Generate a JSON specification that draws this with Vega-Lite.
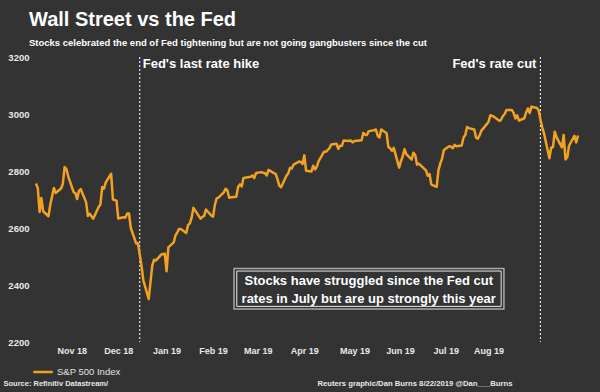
{
  "$schema": "https://vega.github.io/schema/vega-lite/v6.json",
  "width": 542,
  "height": 285,
  "autosize": {"type": "none"},
  "padding": {"left": 36, "top": 57, "right": 22, "bottom": 50},
  "background": "#333333",
  "config": {
    "view": {"stroke": null},
    "font": "Liberation Sans"
  },
  "title": {
    "text": "Wall Street vs the Fed",
    "subtitle": "Stocks celebrated the end of Fed tightening but are not going gangbusters since the cut",
    "anchor": "start",
    "frame": "group",
    "dx": -7,
    "offset": 5,
    "font": "Liberation Sans",
    "fontSize": 20,
    "fontWeight": "bold",
    "color": "#ffffff",
    "subtitleFont": "Liberation Sans",
    "subtitleFontSize": 9.5,
    "subtitleFontWeight": "bold",
    "subtitleColor": "#ffffff",
    "subtitlePadding": 8
  },
  "datasets": {
    "sp500": [
      {"date": "2018-10-22", "close": 2755.88},
      {"date": "2018-10-23", "close": 2740.69},
      {"date": "2018-10-24", "close": 2656.10},
      {"date": "2018-10-25", "close": 2705.57},
      {"date": "2018-10-26", "close": 2658.69},
      {"date": "2018-10-29", "close": 2641.25},
      {"date": "2018-10-30", "close": 2682.63},
      {"date": "2018-10-31", "close": 2711.74},
      {"date": "2018-11-01", "close": 2740.37},
      {"date": "2018-11-02", "close": 2723.06},
      {"date": "2018-11-05", "close": 2738.31},
      {"date": "2018-11-06", "close": 2755.45},
      {"date": "2018-11-07", "close": 2813.89},
      {"date": "2018-11-08", "close": 2806.83},
      {"date": "2018-11-09", "close": 2781.01},
      {"date": "2018-11-12", "close": 2726.22},
      {"date": "2018-11-13", "close": 2722.18},
      {"date": "2018-11-14", "close": 2701.58},
      {"date": "2018-11-15", "close": 2730.20},
      {"date": "2018-11-16", "close": 2736.27},
      {"date": "2018-11-19", "close": 2690.73},
      {"date": "2018-11-20", "close": 2641.89},
      {"date": "2018-11-21", "close": 2649.93},
      {"date": "2018-11-23", "close": 2632.56},
      {"date": "2018-11-26", "close": 2673.45},
      {"date": "2018-11-27", "close": 2682.17},
      {"date": "2018-11-28", "close": 2743.79},
      {"date": "2018-11-29", "close": 2737.80},
      {"date": "2018-11-30", "close": 2760.17},
      {"date": "2018-12-03", "close": 2790.37},
      {"date": "2018-12-04", "close": 2700.06},
      {"date": "2018-12-06", "close": 2695.95},
      {"date": "2018-12-07", "close": 2633.08},
      {"date": "2018-12-10", "close": 2637.72},
      {"date": "2018-12-11", "close": 2636.78},
      {"date": "2018-12-12", "close": 2651.07},
      {"date": "2018-12-13", "close": 2650.54},
      {"date": "2018-12-14", "close": 2599.95},
      {"date": "2018-12-17", "close": 2545.94},
      {"date": "2018-12-18", "close": 2546.16},
      {"date": "2018-12-19", "close": 2506.96},
      {"date": "2018-12-20", "close": 2467.42},
      {"date": "2018-12-21", "close": 2416.62},
      {"date": "2018-12-24", "close": 2351.10},
      {"date": "2018-12-26", "close": 2467.70},
      {"date": "2018-12-27", "close": 2488.83},
      {"date": "2018-12-28", "close": 2485.74},
      {"date": "2018-12-31", "close": 2506.85},
      {"date": "2019-01-02", "close": 2510.03},
      {"date": "2019-01-03", "close": 2447.89},
      {"date": "2019-01-04", "close": 2531.94},
      {"date": "2019-01-07", "close": 2549.69},
      {"date": "2019-01-08", "close": 2574.41},
      {"date": "2019-01-09", "close": 2584.96},
      {"date": "2019-01-10", "close": 2596.64},
      {"date": "2019-01-11", "close": 2596.26},
      {"date": "2019-01-14", "close": 2582.61},
      {"date": "2019-01-15", "close": 2610.30},
      {"date": "2019-01-16", "close": 2616.10},
      {"date": "2019-01-17", "close": 2635.96},
      {"date": "2019-01-18", "close": 2670.71},
      {"date": "2019-01-22", "close": 2632.90},
      {"date": "2019-01-23", "close": 2638.70},
      {"date": "2019-01-24", "close": 2642.33},
      {"date": "2019-01-25", "close": 2664.76},
      {"date": "2019-01-28", "close": 2643.85},
      {"date": "2019-01-29", "close": 2640.00},
      {"date": "2019-01-30", "close": 2681.05},
      {"date": "2019-01-31", "close": 2704.10},
      {"date": "2019-02-01", "close": 2706.53},
      {"date": "2019-02-04", "close": 2724.87},
      {"date": "2019-02-05", "close": 2737.70},
      {"date": "2019-02-06", "close": 2731.61},
      {"date": "2019-02-07", "close": 2706.05},
      {"date": "2019-02-08", "close": 2707.88},
      {"date": "2019-02-11", "close": 2709.80},
      {"date": "2019-02-12", "close": 2744.73},
      {"date": "2019-02-13", "close": 2753.03},
      {"date": "2019-02-14", "close": 2745.73},
      {"date": "2019-02-15", "close": 2775.60},
      {"date": "2019-02-19", "close": 2779.76},
      {"date": "2019-02-20", "close": 2784.70},
      {"date": "2019-02-21", "close": 2774.88},
      {"date": "2019-02-22", "close": 2792.67},
      {"date": "2019-02-25", "close": 2796.11},
      {"date": "2019-02-26", "close": 2793.90},
      {"date": "2019-02-27", "close": 2792.38},
      {"date": "2019-02-28", "close": 2784.49},
      {"date": "2019-03-01", "close": 2803.69},
      {"date": "2019-03-04", "close": 2792.81},
      {"date": "2019-03-05", "close": 2789.65},
      {"date": "2019-03-06", "close": 2771.45},
      {"date": "2019-03-07", "close": 2748.93},
      {"date": "2019-03-08", "close": 2743.07},
      {"date": "2019-03-11", "close": 2783.30},
      {"date": "2019-03-12", "close": 2791.52},
      {"date": "2019-03-13", "close": 2810.92},
      {"date": "2019-03-14", "close": 2808.48},
      {"date": "2019-03-15", "close": 2822.48},
      {"date": "2019-03-18", "close": 2832.94},
      {"date": "2019-03-19", "close": 2832.57},
      {"date": "2019-03-20", "close": 2824.23},
      {"date": "2019-03-21", "close": 2854.88},
      {"date": "2019-03-22", "close": 2800.71},
      {"date": "2019-03-25", "close": 2798.36},
      {"date": "2019-03-26", "close": 2818.46},
      {"date": "2019-03-27", "close": 2805.37},
      {"date": "2019-03-28", "close": 2815.44},
      {"date": "2019-03-29", "close": 2834.40},
      {"date": "2019-04-01", "close": 2867.19},
      {"date": "2019-04-02", "close": 2867.24},
      {"date": "2019-04-03", "close": 2873.40},
      {"date": "2019-04-04", "close": 2879.39},
      {"date": "2019-04-05", "close": 2892.74},
      {"date": "2019-04-08", "close": 2895.77},
      {"date": "2019-04-09", "close": 2878.20},
      {"date": "2019-04-10", "close": 2888.21},
      {"date": "2019-04-11", "close": 2888.32},
      {"date": "2019-04-12", "close": 2907.41},
      {"date": "2019-04-15", "close": 2905.58},
      {"date": "2019-04-16", "close": 2907.06},
      {"date": "2019-04-17", "close": 2900.45},
      {"date": "2019-04-18", "close": 2905.03},
      {"date": "2019-04-22", "close": 2907.97},
      {"date": "2019-04-23", "close": 2933.68},
      {"date": "2019-04-24", "close": 2927.25},
      {"date": "2019-04-25", "close": 2926.17},
      {"date": "2019-04-26", "close": 2939.88},
      {"date": "2019-04-29", "close": 2943.03},
      {"date": "2019-04-30", "close": 2945.83},
      {"date": "2019-05-01", "close": 2923.73},
      {"date": "2019-05-02", "close": 2917.52},
      {"date": "2019-05-03", "close": 2945.64},
      {"date": "2019-05-06", "close": 2932.47},
      {"date": "2019-05-07", "close": 2884.05},
      {"date": "2019-05-08", "close": 2879.42},
      {"date": "2019-05-09", "close": 2870.72},
      {"date": "2019-05-10", "close": 2881.40},
      {"date": "2019-05-13", "close": 2811.87},
      {"date": "2019-05-14", "close": 2834.41},
      {"date": "2019-05-15", "close": 2850.96},
      {"date": "2019-05-16", "close": 2876.32},
      {"date": "2019-05-17", "close": 2859.53},
      {"date": "2019-05-20", "close": 2840.23},
      {"date": "2019-05-21", "close": 2864.36},
      {"date": "2019-05-22", "close": 2856.27},
      {"date": "2019-05-23", "close": 2822.24},
      {"date": "2019-05-24", "close": 2826.06},
      {"date": "2019-05-28", "close": 2802.39},
      {"date": "2019-05-29", "close": 2783.02},
      {"date": "2019-05-30", "close": 2788.86},
      {"date": "2019-05-31", "close": 2752.06},
      {"date": "2019-06-03", "close": 2744.45},
      {"date": "2019-06-04", "close": 2803.27},
      {"date": "2019-06-05", "close": 2826.15},
      {"date": "2019-06-06", "close": 2843.49},
      {"date": "2019-06-07", "close": 2873.34},
      {"date": "2019-06-10", "close": 2886.73},
      {"date": "2019-06-11", "close": 2885.72},
      {"date": "2019-06-12", "close": 2879.84},
      {"date": "2019-06-13", "close": 2891.64},
      {"date": "2019-06-14", "close": 2886.98},
      {"date": "2019-06-17", "close": 2889.67},
      {"date": "2019-06-18", "close": 2917.75},
      {"date": "2019-06-19", "close": 2926.46},
      {"date": "2019-06-20", "close": 2954.18},
      {"date": "2019-06-21", "close": 2950.46},
      {"date": "2019-06-24", "close": 2945.35},
      {"date": "2019-06-25", "close": 2917.38},
      {"date": "2019-06-26", "close": 2913.78},
      {"date": "2019-06-27", "close": 2924.92},
      {"date": "2019-06-28", "close": 2941.76},
      {"date": "2019-07-01", "close": 2964.33},
      {"date": "2019-07-02", "close": 2973.01},
      {"date": "2019-07-03", "close": 2995.82},
      {"date": "2019-07-05", "close": 2990.41},
      {"date": "2019-07-08", "close": 2975.95},
      {"date": "2019-07-09", "close": 2979.63},
      {"date": "2019-07-10", "close": 2993.07},
      {"date": "2019-07-11", "close": 2999.91},
      {"date": "2019-07-12", "close": 3013.77},
      {"date": "2019-07-15", "close": 3014.30},
      {"date": "2019-07-16", "close": 3004.04},
      {"date": "2019-07-17", "close": 2984.42},
      {"date": "2019-07-18", "close": 2995.11},
      {"date": "2019-07-19", "close": 2976.61},
      {"date": "2019-07-22", "close": 2985.03},
      {"date": "2019-07-23", "close": 3005.47},
      {"date": "2019-07-24", "close": 3019.56},
      {"date": "2019-07-25", "close": 3003.67},
      {"date": "2019-07-26", "close": 3025.86},
      {"date": "2019-07-29", "close": 3020.97},
      {"date": "2019-07-30", "close": 3013.18},
      {"date": "2019-07-31", "close": 2980.38},
      {"date": "2019-08-01", "close": 2953.56},
      {"date": "2019-08-02", "close": 2932.05},
      {"date": "2019-08-05", "close": 2844.74},
      {"date": "2019-08-06", "close": 2881.77},
      {"date": "2019-08-07", "close": 2883.98},
      {"date": "2019-08-08", "close": 2938.09},
      {"date": "2019-08-09", "close": 2918.65},
      {"date": "2019-08-12", "close": 2882.70},
      {"date": "2019-08-13", "close": 2926.32},
      {"date": "2019-08-14", "close": 2840.60},
      {"date": "2019-08-15", "close": 2847.60},
      {"date": "2019-08-16", "close": 2888.68},
      {"date": "2019-08-19", "close": 2923.65},
      {"date": "2019-08-20", "close": 2900.51},
      {"date": "2019-08-21", "close": 2924.43}
    ],
    "events": [
      {"date": "2018-12-19", "event": "Fed's last rate hike"},
      {"date": "2019-07-31", "event": "Fed's rate cut"}
    ]
  },
  "layer": [
    {
      "data": {"name": "events"},
      "mark": {"type": "rule", "color": "#ffffff", "strokeWidth": 1, "strokeDash": [2, 2]},
      "encoding": {
        "x": {"field": "date", "type": "temporal"}
      }
    },
    {
      "data": {"name": "sp500"},
      "mark": {"type": "line", "strokeWidth": 2.5, "strokeJoin": "round"},
      "encoding": {
        "x": {
          "field": "date",
          "type": "temporal",
          "scale": {
            "type": "utc",
            "nice": false,
            "domain": [
              {"year": 2018, "month": 10, "date": 22, "utc": true},
              {"year": 2019, "month": 8, "date": 21, "utc": true}
            ]
          },
          "axis": {
            "values": [
              {"year": 2018, "month": 11, "date": 11, "utc": true},
              {"year": 2018, "month": 12, "date": 7, "utc": true},
              {"year": 2019, "month": 1, "date": 3, "utc": true},
              {"year": 2019, "month": 1, "date": 29, "utc": true},
              {"year": 2019, "month": 2, "date": 23, "utc": true},
              {"year": 2019, "month": 3, "date": 21, "utc": true},
              {"year": 2019, "month": 4, "date": 18, "utc": true},
              {"year": 2019, "month": 5, "date": 13, "hours": 12, "utc": true},
              {"year": 2019, "month": 6, "date": 8, "utc": true},
              {"year": 2019, "month": 7, "date": 2, "utc": true}
            ],
            "labelExpr": "['Nov 18','Dec 18','Jan 19','Feb 19','Mar 19','Apr 19','May 19','Jun 19','Jul 19','Aug 19'][round(datum.index * 9)]",
            "labelFlush": false,
            "labelOverlap": false,
            "domain": false,
            "ticks": false,
            "grid": false,
            "labelPadding": 4,
            "labelFont": "Liberation Sans",
            "labelFontSize": 9,
            "labelFontWeight": "bold",
            "labelColor": "#e8e8e8",
            "title": "Source: Refinitiv Datastream/",
            "titleAnchor": null,
            "titleAlign": "left",
            "titleBaseline": "alphabetic",
            "titleX": -33,
            "titleY": 43,
            "titleFont": "Liberation Sans",
            "titleFontSize": 7.5,
            "titleFontWeight": "bold",
            "titleColor": "#e8e8e8"
          }
        },
        "y": {
          "field": "close",
          "type": "quantitative",
          "scale": {"domain": [2200, 3200], "nice": false, "zero": false},
          "axis": {
            "values": [2200, 2400, 2600, 2800, 3000, 3200],
            "format": "d",
            "domain": false,
            "ticks": false,
            "grid": false,
            "labelPadding": 7,
            "labelFont": "Liberation Sans",
            "labelFontSize": 9.5,
            "labelFontWeight": "bold",
            "labelColor": "#e8e8e8",
            "title": "Reuters graphic/Dan Burns 8/22/2019 @Dan___Burns",
            "titleAngle": 0,
            "titleAnchor": null,
            "titleAlign": "right",
            "titleBaseline": "alphabetic",
            "titleX": 476,
            "titleY": 328,
            "titleFont": "Liberation Sans",
            "titleFontSize": 7.7,
            "titleFontWeight": "bold",
            "titleColor": "#e8e8e8"
          }
        },
        "color": {
          "datum": "S&P 500 Index",
          "type": "nominal",
          "scale": {"range": ["#F2A21E"]},
          "legend": {
            "orient": "none",
            "legendX": -4,
            "legendY": 304,
            "title": null,
            "padding": 0,
            "symbolType": "stroke",
            "symbolSize": 380,
            "symbolStrokeWidth": 2.5,
            "labelOffset": 3,
            "labelFont": "Liberation Sans",
            "labelFontSize": 9.5,
            "labelColor": "#e0e0e0"
          }
        }
      }
    },
    {
      "data": {"name": "events"},
      "transform": [{"filter": {"field": "event", "equal": "Fed's last rate hike"}}],
      "mark": {"type": "text", "align": "left", "baseline": "middle", "dx": 3, "color": "#ffffff", "font": "Liberation Sans", "fontSize": 13, "fontWeight": "bold"},
      "encoding": {
        "x": {"field": "date", "type": "temporal"},
        "y": {"datum": 3175, "type": "quantitative"},
        "text": {"field": "event"}
      }
    },
    {
      "data": {"name": "events"},
      "transform": [{"filter": {"field": "event", "equal": "Fed's rate cut"}}],
      "mark": {"type": "text", "align": "right", "baseline": "middle", "dx": -4, "color": "#ffffff", "font": "Liberation Sans", "fontSize": 13, "fontWeight": "bold"},
      "encoding": {
        "x": {"field": "date", "type": "temporal"},
        "y": {"datum": 3175, "type": "quantitative"},
        "text": {"field": "event"}
      }
    },
    {
      "data": {"values": [{}]},
      "mark": {"type": "rect", "fill": "#333333", "stroke": "#a8a8a8", "strokeWidth": 1.5},
      "encoding": {
        "x": {"datum": {"year": 2019, "month": 2, "date": 9, "hours": 17, "utc": true}, "type": "temporal"},
        "x2": {"datum": {"year": 2019, "month": 7, "date": 10, "hours": 14, "utc": true}},
        "y": {"datum": 2458, "type": "quantitative"},
        "y2": {"datum": 2316}
      }
    },
    {
      "data": {"values": [{}]},
      "mark": {"type": "rect", "fill": "#333333", "stroke": "#e6e6e6", "strokeWidth": 1},
      "encoding": {
        "x": {"datum": {"year": 2019, "month": 2, "date": 11, "hours": 6, "utc": true}, "type": "temporal"},
        "x2": {"datum": {"year": 2019, "month": 7, "date": 9, "hours": 1, "utc": true}},
        "y": {"datum": 2449, "type": "quantitative"},
        "y2": {"datum": 2325}
      }
    },
    {
      "data": {"values": [{}]},
      "mark": {"type": "text", "align": "center", "baseline": "middle", "lineHeight": 18, "color": "#ffffff", "font": "Liberation Sans", "fontSize": 13, "fontWeight": "bold"},
      "encoding": {
        "x": {"datum": {"year": 2019, "month": 4, "date": 26, "utc": true}, "type": "temporal"},
        "y": {"datum": 2414, "type": "quantitative"},
        "text": {"value": ["Stocks have struggled since the Fed cut", "rates in July but are up strongly this year"]}
      }
    }
  ]
}
